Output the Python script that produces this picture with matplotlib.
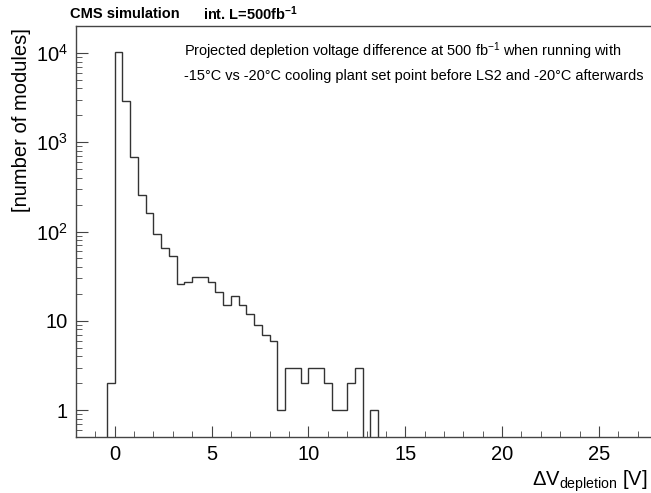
import numpy as np
import matplotlib
matplotlib.use("Agg")
import matplotlib.pyplot as plt
from matplotlib.ticker import LogLocator, FixedLocator, FuncFormatter, MultipleLocator

plt.rcParams['font.family'] = ['Liberation Sans', 'DejaVu Sans']
plt.rcParams['mathtext.fontset'] = 'custom'
plt.rcParams['mathtext.rm'] = 'Liberation Sans'
plt.rcParams['mathtext.it'] = 'Liberation Sans:italic'
plt.rcParams['mathtext.bf'] = 'Liberation Sans:bold'
plt.rcParams['mathtext.default'] = 'regular'

# ---- data ----
bin_width = 0.4
first_edge = -0.4
counts = [2, 10300, 2890, 690, 256, 161, 93, 66, 53, 26, 27, 31, 31, 27, 21,
          15, 19, 15, 12, 9, 7, 6, 1, 3, 3, 2, 3, 3, 2, 1, 1, 2, 3, 0, 1]
x_range = (-2, 28)
y_range = (0.5, 2e4)
x_major_ticks = [0, 5, 10, 15, 20, 25]
title_left = "CMS simulation"
title_right = "int. L=500fb$^{-1}$"
note_line1 = "Projected depletion voltage difference at 500 fb$^{-1}$ when running with"
note_line2 = "-15°C vs -20°C cooling plant set point before LS2 and -20°C afterwards"
ylabel = "[number of modules]"
xlabel = "ΔV$_{depletion}$ [V]"

W, H = 651, 493
fig = plt.figure(figsize=(W / 100, H / 100), dpi=100)

def fx(px):
    return px / W

def fy(py):
    return 1 - py / H

ax_left, ax_top, ax_bottom, ax_right = 76, 26, 437, 657
ax = fig.add_axes([fx(ax_left), fy(ax_bottom), (ax_right - ax_left) / W, (ax_bottom - ax_top) / H])

edges = first_edge + bin_width * np.arange(len(counts) + 1)
vals = np.array(counts, dtype=float)
vals = np.where(vals > 0, vals, 1e-3)
ax.stairs(vals, edges, baseline=1e-3, color='#333333', lw=1.0)

ax.set_yscale('log')
ax.set_xlim(*x_range)
ax.set_ylim(*y_range)

fc = '#444444'
for s in ['left', 'bottom', 'top', 'right']:
    ax.spines[s].set_color(fc)
    ax.spines[s].set_linewidth(1.0)

ax.xaxis.set_major_locator(FixedLocator(x_major_ticks))
ax.xaxis.set_minor_locator(MultipleLocator(1))
ax.yaxis.set_major_locator(LogLocator(base=10, numticks=10))
ax.yaxis.set_minor_locator(LogLocator(base=10, subs=np.arange(2, 10), numticks=20))

def yfmt(v, pos):
    if v <= 0:
        return ''
    n = int(round(np.log10(v)))
    if n == 0:
        return '1'
    if n == 1:
        return '10'
    return '$10^{%d}$' % n

ax.yaxis.set_major_formatter(FuncFormatter(yfmt))
ax.tick_params(axis='both', which='both', direction='in', colors=fc, labelcolor='black',
               top=False, right=False, labelsize=14.5)
ax.tick_params(axis='y', which='major', length=8.6, pad=6)
ax.tick_params(axis='y', which='minor', length=4.3)
ax.tick_params(axis='x', which='major', length=8.0, pad=6)
ax.tick_params(axis='x', which='minor', length=4.3)

fig.text(fx(70), fy(14), title_left, fontsize=10.5, fontweight='bold', ha='left', va='center')
fig.text(fx(203), fy(14), title_right, fontsize=10.5, fontweight='bold', ha='left', va='center')
fig.text(fx(184), fy(51.5), note_line1, fontsize=10.45, ha='left', va='center')
fig.text(fx(184), fy(76), note_line2, fontsize=10.45, ha='left', va='center')
fig.text(fx(22), fy(28), ylabel, fontsize=14.5, rotation=90, ha='center', va='top')
fig.text(fx(648), fy(486), xlabel, fontsize=14.5, ha='right', va='baseline')

fig.savefig('out.png', dpi=100)
